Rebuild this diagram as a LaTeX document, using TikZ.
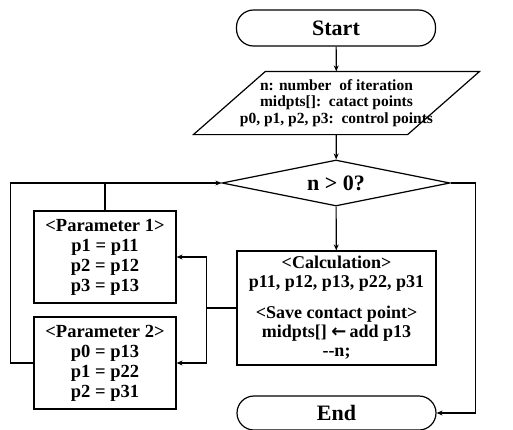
\documentclass[tikz,border=0pt]{standalone}
\usepackage{fontspec}
\setmainfont{Liberation Serif}
\newfontfamily\symf{DejaVu Sans}
\usetikzlibrary{shapes.geometric,arrows.meta}
\begin{document}
\begin{tikzpicture}[x=1pt,y=-1pt,
  line width=1.2pt,
  every node/.style={font=\bfseries},
  arr/.style={-{Stealth[length=6pt,width=5pt]}},
  term/.style={draw,rounded corners=17pt,minimum width=199pt,minimum height=36pt,inner sep=0pt,font=\bfseries\fontsize{22}{24}\selectfont},
  pbox/.style={draw,minimum width=142pt,minimum height=92pt,inner sep=0pt,align=center,font=\bfseries\fontsize{18.5}{20}\selectfont},
  cbox/.style={draw,minimum width=199pt,minimum height=114pt,inner sep=0pt,align=center,font=\bfseries\fontsize{18}{19}\selectfont},
  inv/.style={minimum width=213pt,minimum height=62pt,inner sep=0pt,align=center,font=\bfseries\fontsize{15.5}{16.5}\selectfont},
  dia/.style={draw,diamond,aspect=4.96,minimum width=228pt,minimum height=46pt,inner sep=0pt,font=\bfseries\fontsize{22}{24}\selectfont}
]
\useasboundingbox (0,0) rectangle (513,429);
\begin{scope}
\clip (0,0) rectangle (513,429);
\node[term] (start) at (336,28) {Start};
\node[inv] (inp) at (336.5,103) {n: number\ \ of iteration\\midpts[]:\ \ catact points\\p0, p1, p2, p3:\ \ control points};
\draw ([xshift=36pt]inp.north west) -- ([xshift=36pt]inp.north east) -- ([xshift=-36pt]inp.south east) -- ([xshift=-36pt]inp.south west) -- cycle;
\node[dia] (cond) at (336,183) {n > 0?};
\node[cbox] (calc) at (336.5,308) {<Calculation>\\p11, p12, p13, p22, p31\\[12pt]<Save contact point>\\midpts[]\ {\symf\bfseries ←}\,add p13\\-{}-n;};
\node[pbox] (par1) at (105,257) {<Parameter 1>\\p1 = p11\\p2 = p12\\p3 = p13};
\node[pbox] (par2) at (105,363) {<Parameter 2>\\p0 = p13\\p1 = p22\\p2 = p31};
\node[term,minimum height=34pt] (endn) at (336.5,413) {End};

\draw[arr] (start) -- (inp);
\draw[arr] (inp) -- (cond);
\draw[arr] (cond) -- (calc);
\draw (calc.west) -- ++(-30,0) coordinate (j);
\draw[arr] (j) |- (par1.east);
\draw[arr] (j) |- (par2.east);
\draw[arr] (par2.west) -- ++(-23,0) |- (cond.west);
\draw (par1.north) -- (par1.north |- cond.west);
\draw[arr] (cond.east) -- ++(25,0) |- (endn.east);
\end{scope}
\end{tikzpicture}
\end{document}
